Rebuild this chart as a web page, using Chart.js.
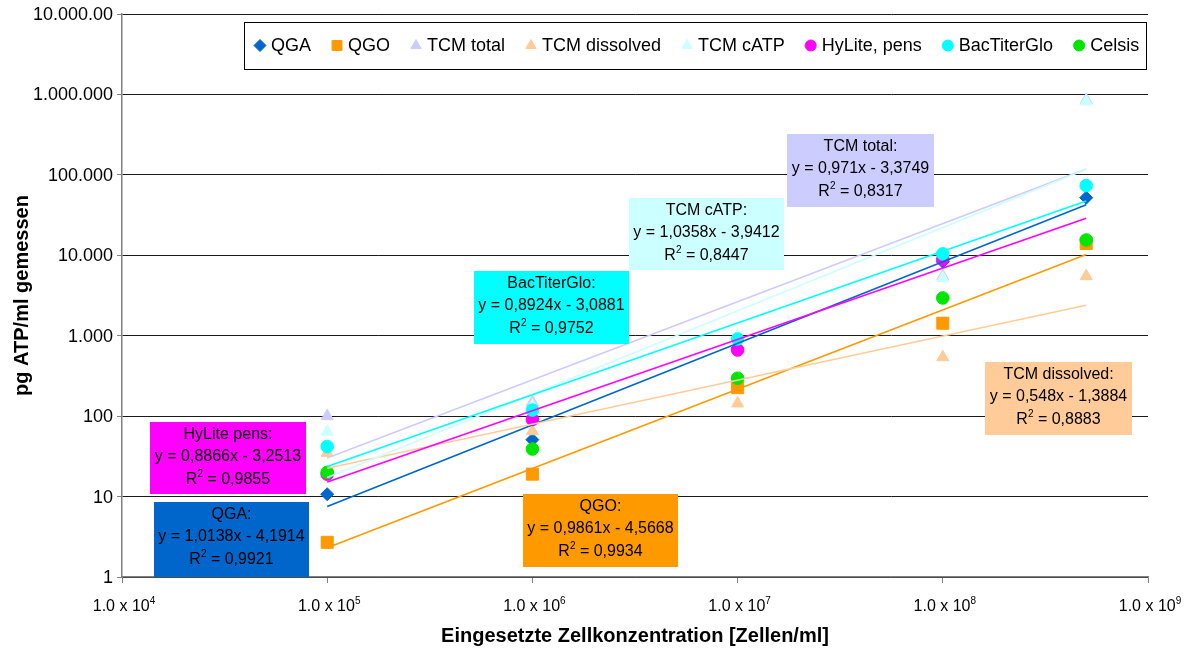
<!DOCTYPE html>
<html>
<head>
<meta charset="utf-8">
<script src="https://cdn.jsdelivr.net/npm/chart.js@4.4.1/dist/chart.umd.min.js"></script>
<style>
  html, body { margin: 0; padding: 0; background: #fff; }
  #wrap { width: 1192px; height: 651px; position: relative; }
</style>
</head>
<body>
<div id="wrap"><canvas id="c"></canvas></div>
<script>
// Cell concentrations used (cells/ml)
const concentrations = [1e5, 1e6, 1e7, 1e8, 5e8];

// Measured ATP (pg/ml) per method
const qga          = [10.7, 51, 700, 8300, 52000];
const qgo          = [2.7, 19, 226, 1430, 14000];
const tcmTotal     = [100, 149, 950, 5500, 850000];
const tcmDissolved = [35, 65, 144, 540, 5500];
const tcmCatp      = [64, 135, 1000, 5200, 818000];
const hyLite       = [19, 91, 664, 8900, null];
const bacTiterGlo  = [42, 119, 910, 10400, 73600];
const celsis       = [20, 39, 296, 2950, 15500];

const seriesNames  = ['QGA', 'QGO', 'TCM total', 'TCM dissolved', 'TCM cATP', 'HyLite, pens', 'BacTiterGlo', 'Celsis'];
const seriesColors = ['#0066cc', '#ff9900', '#ccccff', '#ffcc99', '#ccffff', '#ff00ff', '#00ffff', '#00e600'];
const seriesShapes = ['rectRot', 'rect', 'triangle', 'triangle', 'triangle', 'circle', 'circle', 'circle'];
const seriesValues = [qga, qgo, tcmTotal, tcmDissolved, tcmCatp, hyLite, bacTiterGlo, celsis];

// Log-log regression lines: log10(ATP) = slope * log10(cells) + intercept
const trendNames      = ['QGA', 'QGO', 'TCM total', 'TCM dissolved', 'TCM cATP', 'HyLite pens', 'BacTiterGlo'];
const trendSlopes     = [1.0138, 0.9861, 0.971, 0.548, 1.0358, 0.8866, 0.8924];
const trendIntercepts = [-4.1914, -4.5668, -3.3749, -1.3884, -3.9412, -3.2513, -3.0881];
const trendR2         = ['0,9921', '0,9934', '0,8317', '0,8883', '0,8447', '0,9855', '0,9752'];
const trendSlopeText  = ['1,0138', '0,9861', '0,971', '0,548', '1,0358', '0,8866', '0,8924'];
const trendInterText  = ['4,1914', '4,5668', '3,3749', '1,3884', '3,9412', '3,2513', '3,0881'];
const trendColors     = ['#0066cc', '#ff9900', '#ccccff', '#ffcc99', '#ccffff', '#ff00ff', '#00ffff'];
const trendRange      = [1e5, 5e8];

// Axis tick labels
const yTickValues = [1, 10, 100, 1000, 10000, 100000, 1000000, 10000000];
const yTickLabels = ['1', '10', '100', '1.000', '10.000', '100.000', '1.000.000', '10.000.00'];
const xTickValues = [1e4, 1e5, 1e6, 1e7, 1e8, 1e9];
const xTickExponents = ['4', '5', '6', '7', '8', '9'];

const FONT = "'Liberation Sans', Arial, Helvetica, sans-serif";

// Equation boxes: fill colour, box rectangle (px), first line
const eqBoxes = [
  { trend: 2, title: 'TCM total:',     fill: '#ccccff', x: 787, y: 134, w: 147, h: 73 },
  { trend: 4, title: 'TCM cATP:',      fill: '#ccffff', x: 629, y: 198, w: 155, h: 72 },
  { trend: 6, title: 'BacTiterGlo:',   fill: '#00ffff', x: 474, y: 271, w: 155, h: 73 },
  { trend: 5, title: 'HyLite pens:',   fill: '#ff00ff', x: 150, y: 422, w: 156, h: 72 },
  { trend: 0, title: 'QGA:',           fill: '#0066cc', x: 154, y: 502, w: 155, h: 75 },
  { trend: 1, title: 'QGO:',           fill: '#ff9900', x: 523, y: 494, w: 155, h: 73 },
  { trend: 3, title: 'TCM dissolved:', fill: '#ffcc99', x: 985, y: 362, w: 147, h: 73 }
];

function drawRich(ctx, segs, cx, cy, size) {
  let total = 0;
  const widths = segs.map(s => {
    ctx.font = (s.sup ? Math.round(size * 0.62) : size) + 'px ' + FONT;
    const w = ctx.measureText(s.t).width;
    total += w;
    return w;
  });
  let x = cx - total / 2;
  ctx.textAlign = 'left';
  ctx.textBaseline = 'middle';
  segs.forEach((s, i) => {
    ctx.font = (s.sup ? Math.round(size * 0.62) : size) + 'px ' + FONT;
    ctx.fillText(s.t, x, s.sup ? cy - size * 0.38 : cy);
    x += widths[i];
  });
}

function markerRadius(shape) {
  if (shape === 'rect') return 8.5;
  if (shape === 'circle') return 6.3;
  if (shape === 'triangle') return 7;
  return 6.5;
}

const scatterSets = seriesNames.map((name, i) => ({
  type: 'scatter',
  label: name,
  data: concentrations.map((c, k) => ({ x: c, y: seriesValues[i][k] })).filter(p => p.y !== null),
  pointStyle: seriesShapes[i],
  pointRadius: markerRadius(seriesShapes[i]),
  backgroundColor: seriesColors[i],
  borderColor: seriesColors[i],
  borderWidth: 1,
  order: 20 - i
}));

const trendSets = trendNames.map((name, i) => ({
  type: 'line',
  label: name + ' trend',
  data: trendRange.map(c => ({ x: c, y: Math.pow(10, trendSlopes[i] * Math.log10(c) + trendIntercepts[i]) })),
  borderColor: trendColors[i],
  borderWidth: 1.6,
  pointRadius: 0,
  fill: false,
  order: 10 - i
}));

const overlay = {
  id: 'overlay',
  afterDraw(chart) {
    const ctx = chart.ctx;
    const xs = chart.scales.x, ys = chart.scales.y;
    ctx.save();
    ctx.fillStyle = '#000';

    // y tick labels
    ctx.font = '18px ' + FONT;
    ctx.textAlign = 'right';
    ctx.textBaseline = 'middle';
    yTickValues.forEach((v, i) => ctx.fillText(yTickLabels[i], ys.right - 9, ys.getPixelForValue(v) + 1));

    // x tick labels with superscript exponents
    xTickValues.forEach((v, i) => {
      drawRich(ctx, [{ t: '1.0 x 10' }, { t: xTickExponents[i], sup: true }], xs.getPixelForValue(v) + 2, 607, 16);
    });

    // axis titles
    ctx.fillStyle = '#000';
    ctx.font = 'bold 20px ' + FONT;
    ctx.textAlign = 'center';
    ctx.textBaseline = 'middle';
    ctx.fillText('Eingesetzte Zellkonzentration [Zellen/ml]', (xs.left + xs.right) / 2, 636);
    ctx.save();
    ctx.translate(22, (ys.top + ys.bottom) / 2);
    ctx.rotate(-Math.PI / 2);
    ctx.fillText('pg ATP/ml gemessen', 0, 0);
    ctx.restore();

    // equation boxes
    eqBoxes.forEach(b => {
      ctx.fillStyle = b.fill;
      ctx.fillRect(b.x, b.y, b.w, b.h);
      ctx.fillStyle = '#000';
      const cx = b.x + b.w / 2;
      const t = b.trend;
      drawRich(ctx, [{ t: b.title }], cx, b.y + 13, 16);
      drawRich(ctx, [{ t: 'y = ' + trendSlopeText[t] + 'x - ' + trendInterText[t] }], cx, b.y + 35, 16);
      drawRich(ctx, [{ t: 'R' }, { t: '2', sup: true }, { t: ' = ' + trendR2[t] }], cx, b.y + 58, 16);
    });

    // legend
    const lx = 244, ly = 22, lw = 902, lh = 47;
    ctx.fillStyle = '#fff';
    ctx.fillRect(lx, ly, lw, lh);
    ctx.strokeStyle = '#000';
    ctx.lineWidth = 1;
    ctx.strokeRect(lx + 0.5, ly + 0.5, lw, lh);
    let mx = 260;
    const my = ly + lh / 2;
    seriesNames.forEach((name, i) => {
      ctx.fillStyle = seriesColors[i];
      ctx.strokeStyle = seriesColors[i];
      const r = seriesShapes[i] === 'rect' ? 7 : (seriesShapes[i] === 'circle' ? 5.5 : 6);
      Chart.helpers.drawPoint(ctx, { pointStyle: seriesShapes[i], radius: r, borderWidth: 1 }, mx, my);
      ctx.fillStyle = '#000';
      ctx.font = '18px ' + FONT;
      ctx.textAlign = 'left';
      ctx.textBaseline = 'middle';
      const tx = mx + 11;
      ctx.fillText(name, tx, my + 1);
      mx = tx + ctx.measureText(name).width + 26;
    });
    ctx.restore();
  }
};

new Chart(document.getElementById('c'), {
  data: { datasets: [...scatterSets, ...trendSets] },
  options: {
    responsive: true,
    maintainAspectRatio: false,
    animation: false,
    layout: { padding: { top: 14, right: 44, left: 0, bottom: 0 } },
    plugins: { legend: { display: false }, tooltip: { enabled: false } },
    scales: {
      x: {
        type: 'logarithmic',
        min: 1e4,
        max: 1e9,
        afterBuildTicks: s => { s.ticks = xTickValues.map(v => ({ value: v })); },
        afterFit: s => { s.height = 74; },
        ticks: { display: false },
        grid: { drawOnChartArea: false, drawTicks: true, tickLength: 6, color: '#808080', tickColor: '#808080' },
        border: { color: '#808080', width: 1.5 }
      },
      y: {
        type: 'logarithmic',
        min: 1,
        max: 1e7,
        afterBuildTicks: s => { s.ticks = yTickValues.map(v => ({ value: v })); },
        afterFit: s => { s.width = 122; },
        ticks: { display: false },
        grid: { color: '#1a1a1a', lineWidth: 1, drawTicks: true, tickLength: 5, tickColor: '#808080' },
        border: { color: '#808080', width: 1.5 }
      }
    }
  },
  plugins: [overlay]
});
</script>
</body>
</html>
